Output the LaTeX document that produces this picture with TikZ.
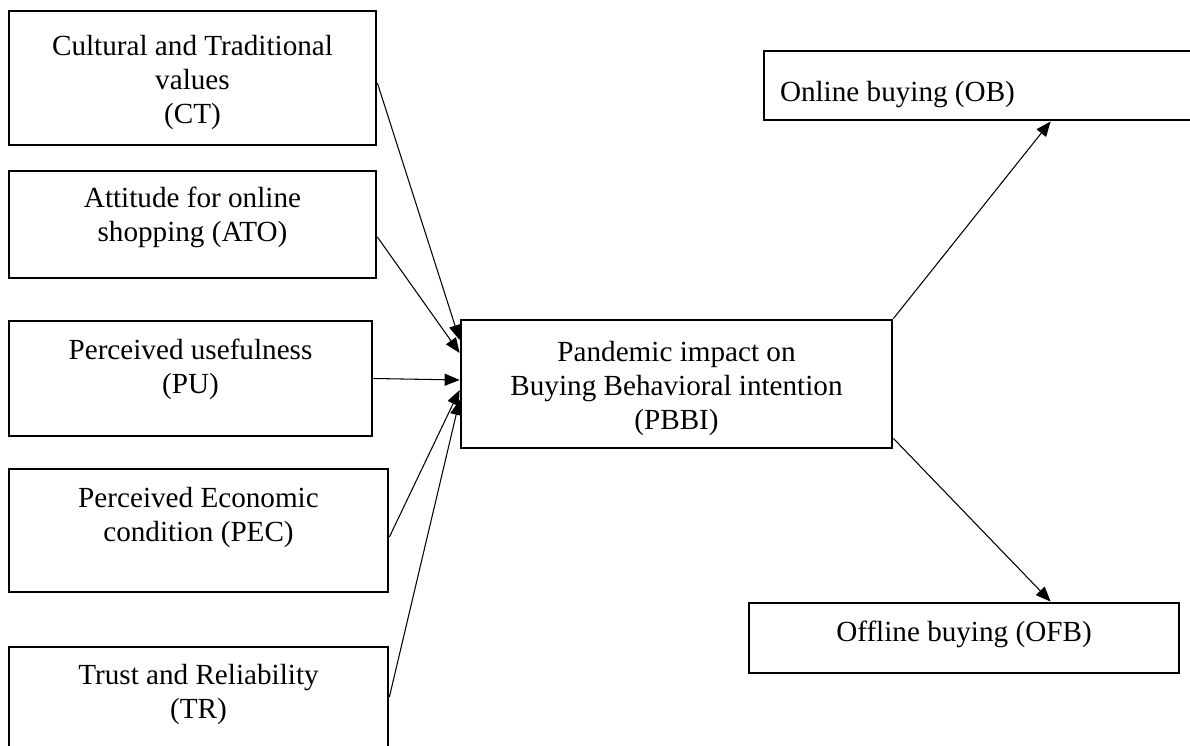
\documentclass[tikz,border=0pt]{standalone}
\usepackage{fontspec}
\setmainfont{Liberation Serif}
\usetikzlibrary{arrows.meta, positioning, calc}

\begin{document}
\begin{tikzpicture}[x=0.02cm, y=-0.02cm, font=\fontsize{16.6}{19.4}\selectfont,
    box/.style={draw, line width=1.6pt, inner sep=0pt},
    lbl/.style={anchor=north, align=center, inner sep=0pt},
    arr/.style={-{Triangle[length=0.3cm, width=0.24cm]}, line width=0.6pt}]
    \useasboundingbox (0,0) rectangle (1190,746);
    % factors
    \node[box, minimum width=7.34cm, minimum height=2.68cm] (ct) at (192.5,78) {};
    \node[box, minimum width=7.34cm, minimum height=2.14cm] (ato) at (192.5,224.5) {};
    \node[box, minimum width=7.26cm, minimum height=2.30cm] (pu) at (190.5,378.5) {};
    \node[box, minimum width=7.58cm, minimum height=2.46cm] (pec) at (198.5,530.5) {};
    \node[box, minimum width=7.58cm, minimum height=2.86cm] (tr) at (198.5,718.5) {};
    \node[lbl] (ctt) at ($(ct.north)+(0,25)$) {Cultural and Traditional\\values\\(CT)};
    \node[lbl] (atot) at ($(ato.north)+(0,17)$) {Attitude for online\\shopping (ATO)};
    \node[lbl] (put) at ($(pu.north)+(0,19)$) {Perceived usefulness\\(PU)};
    \node[lbl] (pect) at ($(pec.north)+(0,19)$) {Perceived Economic\\condition (PEC)};
    \node[lbl] (trt) at ($(tr.north)+(0,18)$) {Trust and Reliability\\(TR)};
    % intention and outcomes
    \node[box, minimum width=8.62cm, minimum height=2.56cm] (pbbi) at (676.5,384) {};
    \node[lbl] (pbbit) at ($(pbbi.north)+(0,22)$) {Pandemic impact on\\Buying Behavioral intention\\(PBBI)};
    \node[box, minimum width=8.92cm, minimum height=1.38cm] (ob) at (987,85.5) {};
    \node[lbl, anchor=north west] (obt) at ($(ob.north west)+(17,31)$) {Online buying (OB)};
    \node[box, minimum width=8.6cm, minimum height=1.40cm] (ofb) at (964,638) {};
    \node[lbl] (ofbt) at ($(ofb.north)+(0,19)$) {Offline buying (OFB)};
    % arrows
    \draw[arr] ($(ct.east)+(0,5)$) -- ($(pbbi.west)+(0,-44)$);
    \draw[arr] ($(ato.east)+(0,12.5)$) -- ($(pbbi.west)+(0,-31)$);
    \draw[arr] (pu.east) -- ($(pbbi.west)+(0,-4)$);
    \draw[arr] ($(pec.east)+(0,6.5)$) -- ($(pbbi.west)+(0,6)$);
    \draw[arr] ($(tr.east)+(0,-21.5)$) -- ($(pbbi.west)+(0,16)$);
    \draw[arr] (pbbi.north east) -- ($(ob.south west)+(288,0)$);
    \draw[arr] ($(pbbi.south east)+(0,-11)$) -- ($(ofb.north west)+(303,0)$);
\end{tikzpicture}
\end{document}
